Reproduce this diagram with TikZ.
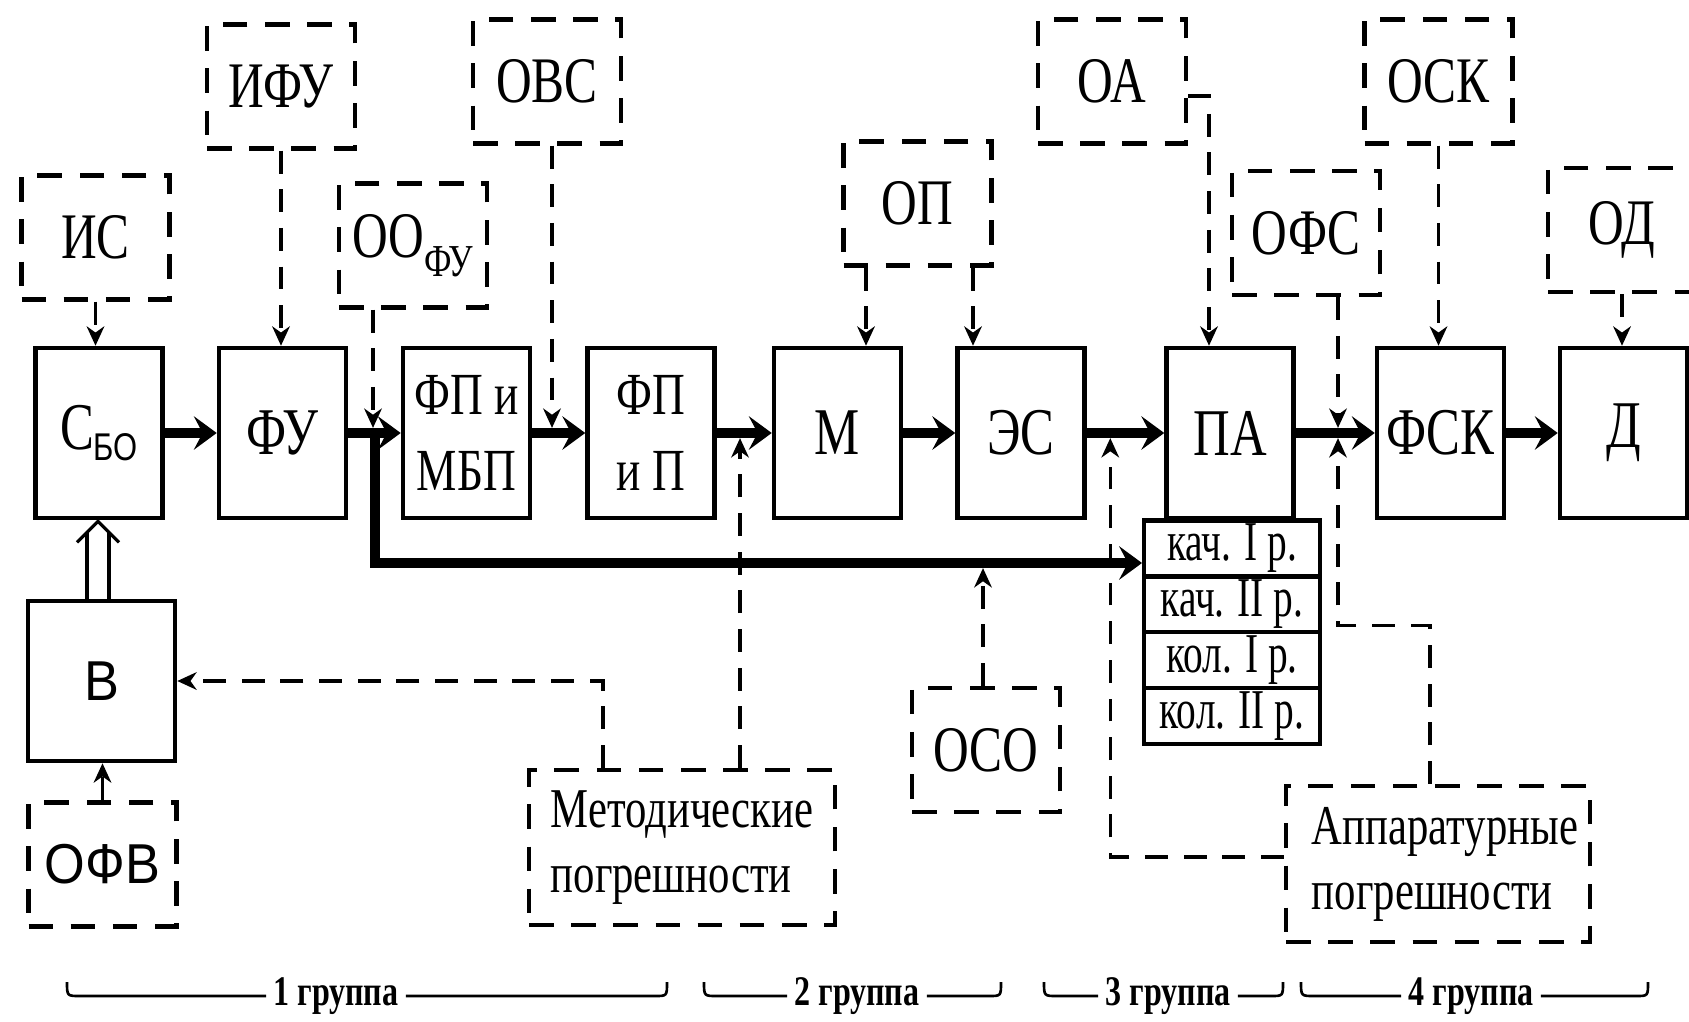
\documentclass[tikz,border=0pt]{standalone}
\usepackage{fontspec}
\setmainfont{Liberation Serif}
\newfontfamily\cond[FakeStretch=0.76]{Liberation Serif}
\newfontfamily\tcond[FakeStretch=0.7]{Liberation Serif}
\newfontfamily\sansB[FakeStretch=0.93]{Liberation Sans}
\newfontfamily\sansC[FakeStretch=0.8]{Liberation Sans}
\usetikzlibrary{arrows.meta,calc}
\begin{document}
\begin{tikzpicture}[x=0.02cm,y=-0.02cm,
  blk/.style={draw,line width=2.6pt,minimum width=2.54cm,minimum height=3.4cm,inner sep=0pt,
    font=\cond\fontsize{38}{44}\selectfont},
  twol/.style={align=center,font=\cond\fontsize{34}{43}\selectfont},
  dbox/.style={draw,line width=2.5pt,dash pattern=on 14pt off 10pt,minimum width=2.96cm,
    minimum height=2.48cm,inner sep=0pt,font=\cond\fontsize{37}{40}\selectfont},
  bigd/.style={dbox,align=left,font=\cond\fontsize{32}{37}\selectfont},
  mainarr/.style={line width=5.8pt,-{Stealth[length=13pt,width=19pt,inset=5pt]}},
  conn/.style={line width=1.9pt,dash pattern=on 13pt off 9pt,
    -{Stealth[length=11pt,width=10pt,inset=3.5pt]}},
  onln/.style={shorten >=2.9pt},
  rowbox/.style={draw,line width=2.3pt,minimum width=3.52cm,minimum height=1.12cm,inner sep=0pt,
    font=\tcond\fontsize{32}{34}\selectfont},
  grp/.style={font=\cond\bfseries\fontsize{24}{26}\selectfont,inner sep=4pt},
  brace/.style={line width=1.5pt}
]
\fill[white] (0,0) rectangle (1689,1021);
\useasboundingbox (0,0) rectangle (1689,1021);
\clip (0,0) rectangle (1689,1021);

% main row
\node[blk] (Sbo) at (99,433) {С\raisebox{-6pt}{\sansC\fontsize{22}{22}\selectfont БО}};
\node[blk] (FU) at (282.5,433) {ФУ};
\node[blk,twol] (FPM) at (466.5,433) {ФП и\\МБП};
\node[blk,twol] (FPP) at (651,433) {ФП\\и П};
\node[blk] (M) at (837.5,433) {М};
\node[blk] (ES) at (1021,433) {ЭС};
\node[blk] (PA) at (1230,433) {ПА};
\node[blk] (FSK) at (1440.5,433) {ФСК};
\node[blk] (D) at (1623.5,433) {Д};

% table under PA
\node[rowbox] (r1) at (1232,548.5) {кач. I р.};
\node[rowbox] (r2) at (1232,604) {кач. II р.};
\node[rowbox] (r3) at (1232,660) {кол. I р.};
\node[rowbox] (r4) at (1232,716) {кол. II р.};

% B
\node[draw,line width=2.6pt,minimum width=2.94cm,minimum height=3.2cm,inner sep=0pt,
  font=\sansB\fontsize{32}{32}\selectfont] (B) at (101.5,681) {В};

% dashed boxes
\node[dbox] (IS) at (95.5,237.5) {ИС};
\node[dbox] (IFU) at (281,86.5) {ИФУ};
\node[dbox] (OOFU) at (413,245.5) {ОО\raisebox{-11pt}{\fontsize{26}{26}\selectfont ФУ}};
\node[dbox] (OVS) at (547,81.5) {ОВС};
\node[dbox] (OP) at (917.5,203.5) {ОП};
\node[dbox] (OA) at (1112,81.5) {ОА};
\node[dbox] (OFS) at (1306,233) {ОФС};
\node[dbox] (OSK) at (1438.5,81.5) {ОСК};
\node[dbox] (OD) at (1622,230) {ОД};
\node[dbox] (OSO) at (986,750) {ОСО};
\node[dbox,font=\sansB\fontsize{32}{32}\selectfont] (OFV) at (102.5,864.5) {ОФВ};
\node[bigd,minimum width=6.12cm,minimum height=3.1cm] (MP) at (682,847.5) {Методические\\погрешности};
\node[bigd,minimum width=6.08cm,minimum height=3.12cm] (AP) at (1438,864) {\hspace*{8pt}Аппаратурные\\\hspace*{8pt}погрешности};

% main thick arrows
\coordinate (br) at (375,433);
\coordinate (tin) at ($(r1.west)+(0,14.5)$);
\draw[mainarr] (Sbo) -- (FU);
\draw[mainarr] (FU) -- (FPM);
\draw[mainarr] (FPM) -- (FPP);
\draw[mainarr] (FPP) -- (M);
\draw[mainarr] (M) -- (ES);
\draw[mainarr] (ES) -- (PA);
\draw[mainarr] (PA) -- (FSK);
\draw[mainarr] (FSK) -- (D);
\draw[mainarr,line join=miter] (br) |- (tin);

% double arrow B -> Sbo
\coordinate (ap) at ($(Sbo.south)+(-1,1)$);
\coordinate (dl) at ($(ap)+(-11,11)$);
\coordinate (dr) at ($(ap)+(11,11)$);
\draw[line width=1.8pt,line join=miter] ($(ap)+(-21,21)$) -- (ap) -- ($(ap)+(21,21)$);
\draw[line width=1.8pt] (dl) -- (dl |- B.north);
\draw[line width=1.8pt] (dr) -- (dr |- B.north);

% dashed connectors
\draw[conn] (IS.south) -- (IS.south |- Sbo.north);
\draw[conn] (IFU.south) -- (IFU.south |- FU.north);
\coordinate (oo) at ($(OOFU.south)+(-40,0)$);
\draw[conn,onln] (oo) -- (oo |- FU.east);
\coordinate (ov) at ($(OVS.south)+(5,0)$);
\draw[conn,onln] (ov) -- (ov |- FPM.east);
\coordinate (op1) at ($(OP.south)+(-51.5,0)$);
\coordinate (op2) at ($(OP.south)+(55.5,0)$);
\draw[conn] (op1) -- (op1 |- M.north);
\draw[conn] (op2) -- (op2 |- ES.north);
\coordinate (oa1) at ($(OA.east)+(0,14.5)$);
\coordinate (pa1) at ($(PA.north)+(-21,0)$);
\draw[conn] (oa1) -- (oa1 -| pa1) -- (pa1);
\coordinate (ofs) at ($(OFS.south)+(32,0)$);
\draw[conn,onln] (ofs) -- (ofs |- PA.east);
\draw[conn] (OSK.south) -- (OSK.south |- FSK.north);
\draw[conn] (OD.south) -- (OD.south |- D.north);
\draw[conn] (OFV.north) -- (OFV.north |- B.south);
\coordinate (mp1) at ($(MP.north)+(-79,0)$);
\draw[conn] (mp1) -- (mp1 |- B.east) -- (B.east);
\coordinate (mp2) at ($(MP.north)+(58,0)$);
\draw[conn,onln] (mp2) -- (mp2 |- FPP.east);
\coordinate (oso) at ($(OSO.north)+(-3,0)$);
\draw[conn,onln] (oso) -- (oso |- tin);
\coordinate (ap1) at ($(AP.west)+(0,-7)$);
\coordinate (lp) at ($(ES.east)+(23.5,0)$);
\draw[conn,onln] (ap1) -- (ap1 -| lp) -- (lp);
\coordinate (ap2) at ($(AP.north)+(-8,0)$);
\coordinate (rq) at ($(ap2)+(0,-158)$);
\coordinate (rp) at (ofs |- PA.east);
\draw[conn,onln] (ap2) -- (rq) -- (rq -| rp) -- (rp);

% group braces
\node[grp] (g1) at (336,996) {1 группа};
\node[grp] (g2) at (857,996) {2 группа};
\node[grp] (g3) at (1168,996) {3 группа};
\node[grp] (g4) at (1471,996) {4 группа};
\draw[brace] (67,982) .. controls (67,996) and (67,996) .. (80,996) -- (g1.west);
\draw[brace] (g1.east) -- (655,996) .. controls (667,996) and (667,996) .. (667,982);
\draw[brace] (704,982) .. controls (704,996) and (704,996) .. (717,996) -- (g2.west);
\draw[brace] (g2.east) -- (989,996) .. controls (1001,996) and (1001,996) .. (1001,982);
\draw[brace] (1044,982) .. controls (1044,996) and (1044,996) .. (1057,996) -- (g3.west);
\draw[brace] (g3.east) -- (1271,996) .. controls (1283,996) and (1283,996) .. (1283,982);
\draw[brace] (1301,982) .. controls (1301,996) and (1301,996) .. (1314,996) -- (g4.west);
\draw[brace] (g4.east) -- (1636,996) .. controls (1648,996) and (1648,996) .. (1648,982);
\end{tikzpicture}
\end{document}
